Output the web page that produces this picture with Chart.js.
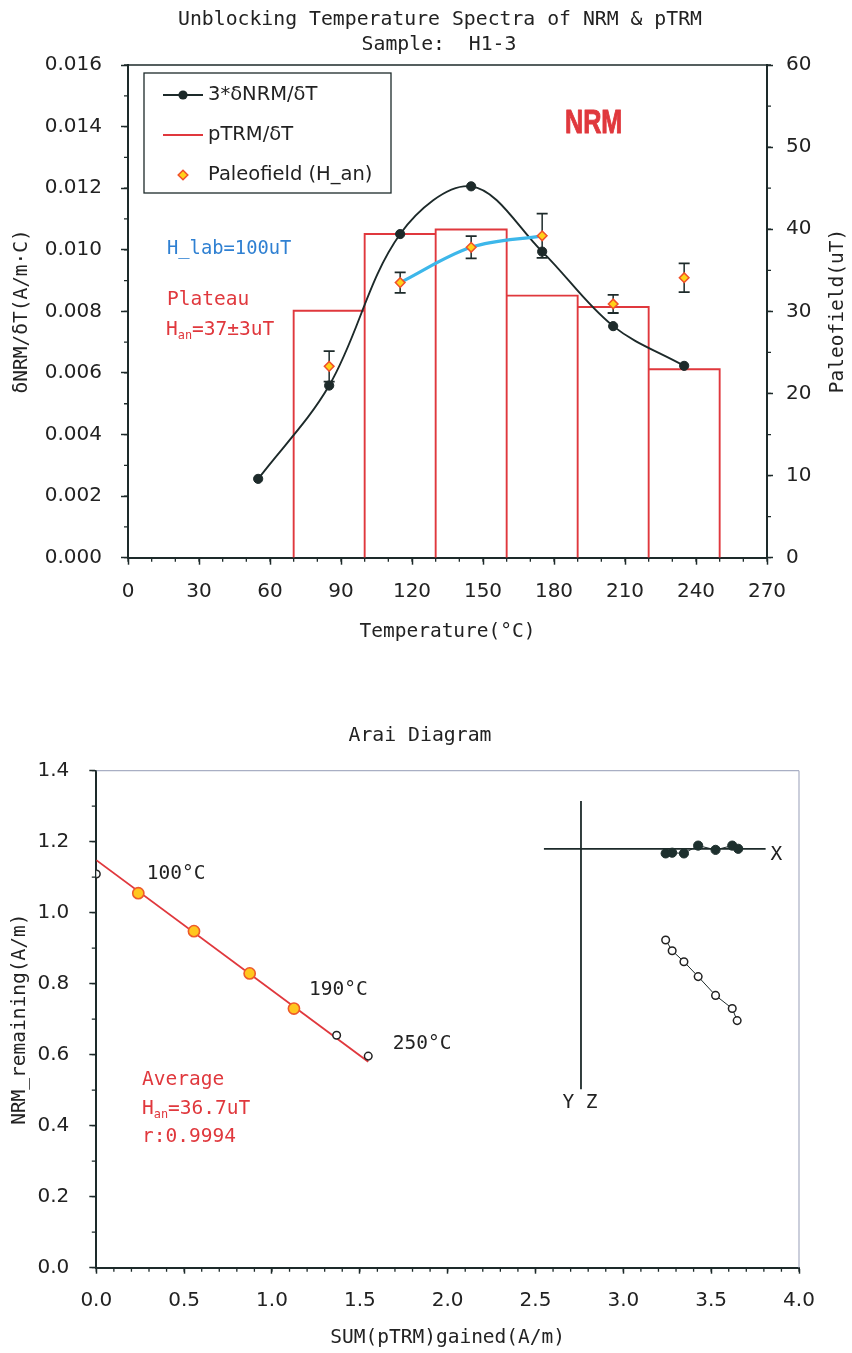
<!DOCTYPE html>
<html>
<head>
<meta charset="utf-8">
<title>Unblocking Temperature Spectra / Arai Diagram — H1-3</title>
<script src="https://cdn.jsdelivr.net/npm/chart.js@4.4.1/dist/chart.umd.min.js"></script>
<style>
  html, body { margin: 0; padding: 0; background: #ffffff; }
  body { width: 852px; height: 1353px; position: relative; overflow: hidden; }
  canvas { position: absolute; left: 0; }
  #spectra { top: 0; }
  #arai { top: 680px; }
</style>
</head>
<body>
<canvas id="spectra" width="852" height="660" style="width:852px;height:660px"></canvas>
<canvas id="arai" width="852" height="673" style="width:852px;height:673px"></canvas>
<script>
// ---------- Unblocking temperature spectra (sample H1-3) ----------
const stepTemps   = [55, 85, 115, 145, 175, 205, 235];                      // °C, mid-step
const nrmRate3x   = [0.00256, 0.00559, 0.01051, 0.01206, 0.00994, 0.00752, 0.00623]; // 3*dNRM/dT
const binEdges    = [70, 100, 130, 160, 190, 220, 250];                     // °C
const ptrmRate    = [0.00802, 0.01051, 0.01066, 0.00851, 0.00814, 0.00612]; // pTRM/dT per bin
const paleoTemps  = [85, 115, 145, 175, 205, 235];
const paleofield  = [23.3, 33.5, 37.8, 39.2, 30.9, 34.1];                   // uT
const paleoErr    = [1.85, 1.25, 1.35, 2.7, 1.1, 1.75];                     // uT
const plateauRange = [115, 175];
const tempTickStep = 30, tempMinorStep = 10;

// ---------- Arai diagram ----------
const pTRMgained   = [0.000, 0.239, 0.556, 0.873, 1.125, 1.368, 1.548];     // A/m
const nrmRemaining = [1.109, 1.055, 0.948, 0.829, 0.730, 0.655, 0.596];     // A/m
const fitFirst = 1, fitLast = 4;
const Hlab = 100, Han = 36.7, fitIntercept = 1.148, fitR = 0.9994;
const stepLabels = [[1, '100°C'], [4, '190°C'], [6, '250°C']];

// Orthogonal (Zijderveld) projection shown inside the Arai frame
const zijAxisLevel = 1.180, zijAxisSpanX = [2.548, 3.810];
const zijAxisPos   = 2.759, zijAxisSpanY = [0.503, 1.315];
const zijHorizX = [3.241, 3.278, 3.345, 3.426, 3.525, 3.620, 3.654];
const zijHorizY = [1.167, 1.169, 1.167, 1.189, 1.177, 1.189, 1.180];
const zijVertX  = [3.241, 3.278, 3.345, 3.426, 3.525, 3.620, 3.648];
const zijVertY  = [0.923, 0.893, 0.862, 0.820, 0.767, 0.730, 0.696];

// ---------- styling ----------
const MONO = '"DejaVu Sans Mono", monospace';
const SANS = '"DejaVu Sans", sans-serif';
const INK  = '#1d2a2a';
const TXT  = '#222222';
const RED  = '#e0383d';
const BLUE = '#2f80d2';
const CYAN = '#3db7ea';
const DIAMOND_FILL = '#ffd21a', DIAMOND_EDGE = '#f0502a';

// ---------- helpers / plugins ----------
function drawParts(ctx, parts, x, y, o) {
  const size = o.size || 19.5, family = o.family || MONO, weight = o.weight || 'normal';
  const seg = parts.map(p => (typeof p === 'object') ? {t: p.t, sub: true} : {t: p, sub: false});
  let total = 0;
  seg.forEach(s => {
    ctx.font = `${weight} ${s.sub ? size * 0.61 : size}px ${family}`;
    s.w = ctx.measureText(s.t).width; total += s.w;
  });
  let cx = o.align === 'center' ? x - total / 2 : x;
  ctx.textBaseline = 'middle';
  ctx.textAlign = 'left';
  seg.forEach(s => {
    ctx.font = `${weight} ${s.sub ? size * 0.61 : size}px ${family}`;
    const yy = y + (s.sub ? size * 0.29 : 0);
    ctx.fillText(s.t, cx, yy);
    if (o.stroke) {
      ctx.strokeStyle = ctx.fillStyle;
      ctx.lineWidth = o.stroke;
      ctx.lineJoin = 'round';
      ctx.strokeText(s.t, cx, yy);
    }
    cx += s.w;
  });
}

function textPlugin(itemsFor) {
  return {
    id: 'textItems',
    afterDraw(chart) {
      const ctx = chart.ctx;
      itemsFor(chart).forEach(it => {
        ctx.save();
        ctx.fillStyle = it.color || TXT;
        if (it.rotate) {
          ctx.translate(it.x, it.y);
          ctx.rotate(it.rotate * Math.PI / 180);
          drawParts(ctx, it.parts, 0, 0, it);
        } else if (it.squeeze) {
          ctx.translate(it.x, it.y);
          ctx.scale(it.squeeze, 1);
          drawParts(ctx, it.parts, 0, 0, it);
        } else {
          drawParts(ctx, it.parts, it.x, it.y, it);
        }
        ctx.restore();
      });
    }
  };
}

function minorTicksPlugin(axes) {
  return {
    id: 'minorTicks',
    afterDraw(chart) {
      const ctx = chart.ctx;
      ctx.save();
      ctx.strokeStyle = INK;
      ctx.lineWidth = 1.3;
      ctx.beginPath();
      Object.entries(axes).forEach(([id, m]) => {
        const s = chart.scales[id];
        const n = Math.round((s.max - s.min) / m.step);
        for (let k = 0; k <= n; k++) {
          const p = s.getPixelForValue(s.min + k * m.step);
          if (s.isHorizontal()) { ctx.moveTo(p, s.top); ctx.lineTo(p, s.top + m.len); }
          else if (s.position === 'left') { ctx.moveTo(s.right, p); ctx.lineTo(s.right - m.len, p); }
          else { ctx.moveTo(s.left, p); ctx.lineTo(s.left + m.len, p); }
        }
      });
      ctx.stroke();
      ctx.restore();
    }
  };
}

function framePlugin(o) {
  return {
    id: 'frameEdges',
    afterDatasetsDraw(chart) {
      const {ctx, chartArea: a} = chart;
      ctx.save();
      ctx.strokeStyle = o.color; ctx.lineWidth = o.width;
      ctx.beginPath();
      if (o.top)   { ctx.moveTo(a.left, a.top); ctx.lineTo(a.right, a.top); }
      if (o.right) { ctx.moveTo(a.right, a.top); ctx.lineTo(a.right, a.bottom); }
      ctx.stroke();
      ctx.restore();
    }
  };
}

// boxed legend inside the plot area
const spectraLegend = {
  id: 'spectraLegend',
  afterDraw(chart) {
    const ctx = chart.ctx;
    const L = 144, T = 73, R = 391, B = 193;
    const rows = [95, 135, 175], x0 = 163, x1 = 203, xm = 183, xt = 208;
    ctx.save();
    ctx.strokeStyle = INK; ctx.lineWidth = 1.3;
    ctx.strokeRect(L, T, R - L, B - T);
    // row 1: curve with dot
    ctx.strokeStyle = INK; ctx.lineWidth = 1.8;
    ctx.beginPath(); ctx.moveTo(x0, rows[0]); ctx.lineTo(x1, rows[0]); ctx.stroke();
    ctx.fillStyle = INK;
    ctx.beginPath(); ctx.arc(xm, rows[0], 4.6, 0, Math.PI * 2); ctx.fill();
    // row 2: histogram line
    ctx.strokeStyle = RED; ctx.lineWidth = 1.8;
    ctx.beginPath(); ctx.moveTo(x0, rows[1]); ctx.lineTo(x1, rows[1]); ctx.stroke();
    // row 3: diamond
    ctx.fillStyle = DIAMOND_FILL; ctx.strokeStyle = DIAMOND_EDGE; ctx.lineWidth = 1.5;
    ctx.beginPath();
    ctx.moveTo(xm, rows[2] - 4.8); ctx.lineTo(xm + 4.8, rows[2]);
    ctx.lineTo(xm, rows[2] + 4.8); ctx.lineTo(xm - 4.8, rows[2]); ctx.closePath();
    ctx.fill(); ctx.stroke();
    ctx.fillStyle = TXT;
    drawParts(ctx, ['3*δNRM/δT'], xt, rows[0], {size: 19.5, family: SANS});
    drawParts(ctx, ['pTRM/δT'], xt, rows[1], {size: 19.5, family: SANS});
    drawParts(ctx, ['Paleofield (H_an)'], xt, rows[2], {size: 19.5, family: SANS});
    ctx.restore();
  }
};

// ---------- series built from the arrays ----------
const nrmSeries = stepTemps.map((t, i) => ({x: t, y: nrmRate3x[i]}));
const histOutline = [];
ptrmRate.forEach((v, i) => {
  const lo = binEdges[i], hi = binEdges[i + 1];
  histOutline.push({x: lo, y: 0}, {x: lo, y: v}, {x: hi, y: v}, {x: hi, y: 0});
});
const paleoSeries = paleoTemps.map((t, i) => ({x: t, y: paleofield[i]}));
const plateauSeries = paleoSeries.filter(p => p.x >= plateauRange[0] && p.x <= plateauRange[1]);
const errSeries = [];
paleoTemps.forEach((t, i) => {
  errSeries.push({x: t, y: paleofield[i] - paleoErr[i]}, {x: t, y: paleofield[i] + paleoErr[i]}, {x: t, y: null});
});

const tickFont = {family: SANS, size: 20};
const titleFont = {family: MONO, size: 19.5};

new Chart(document.getElementById('spectra'), {
  type: 'scatter',
  data: {
    datasets: [
      { label: 'Paleofield (H_an)', type: 'scatter', data: paleoSeries, yAxisID: 'y2', order: 0,
        pointStyle: 'rectRot', pointRadius: 4.8, backgroundColor: DIAMOND_FILL,
        borderColor: DIAMOND_EDGE, borderWidth: 1.5 },
      { label: 'error', type: 'line', data: errSeries, yAxisID: 'y2', order: 1, spanGaps: false,
        borderColor: INK, borderWidth: 1.5, pointStyle: 'line', pointRadius: 5.5,
        pointBorderColor: INK, pointBorderWidth: 1.8, tension: 0 },
      { label: 'plateau', type: 'line', data: plateauSeries, yAxisID: 'y2', order: 2,
        borderColor: CYAN, borderWidth: 3.2, pointRadius: 0, tension: 0.35 },
      { label: '3*δNRM/δT', type: 'line', data: nrmSeries, yAxisID: 'y', order: 3,
        borderColor: INK, borderWidth: 1.9, tension: 0.35,
        pointRadius: 4.6, pointBackgroundColor: INK, pointBorderColor: INK, pointBorderWidth: 1 },
      { label: 'pTRM/δT', type: 'line', data: histOutline, yAxisID: 'y', order: 4,
        borderColor: RED, borderWidth: 1.9, pointRadius: 0, tension: 0 }
    ]
  },
  options: {
    responsive: false, animation: false, events: [],
    layout: { padding: { top: 65, right: 0, bottom: 0, left: 0 } },
    plugins: { legend: { display: false }, tooltip: { enabled: false } },
    scales: {
      x: {
        type: 'linear', position: 'bottom', min: 0, max: 270, offset: false,
        ticks: { stepSize: tempTickStep, font: tickFont, color: TXT, padding: 15, maxRotation: 0, autoSkip: false },
        grid: { drawOnChartArea: false, drawTicks: true, tickLength: 7, tickColor: INK, tickWidth: 1.5 },
        border: { display: true, color: INK, width: 2 },
        title: { display: true, text: 'Temperature(°C)', font: titleFont, color: TXT, padding: { top: 0, bottom: 16 } },
        afterFit(s) { s.height = 102.3; }
      },
      y: {
        type: 'linear', position: 'left', min: 0, max: 0.016,
        ticks: { stepSize: 0.002, callback: v => v.toFixed(3), font: tickFont, color: TXT, padding: 19 },
        grid: { drawOnChartArea: false, drawTicks: true, tickLength: 7, tickColor: INK, tickWidth: 1.5 },
        border: { display: true, color: INK, width: 2 },
        title: { display: true, text: 'δNRM/δT(A/m·C)', font: titleFont, color: TXT, padding: { top: 10, bottom: 0 } },
        afterFit(s) { s.width = 128; }
      },
      y2: {
        type: 'linear', position: 'right', min: 0, max: 60,
        ticks: { stepSize: 10, font: tickFont, color: TXT, padding: 13 },
        grid: { drawOnChartArea: false, drawTicks: true, tickLength: 6, tickColor: INK, tickWidth: 1.5 },
        border: { display: true, color: INK, width: 2 },
        afterFit(s) { s.width = 85; }
      }
    }
  },
  plugins: [
    framePlugin({ top: true, right: false, color: INK, width: 1.6 }),
    minorTicksPlugin({ x: { step: tempMinorStep, len: 4 }, y: { step: 0.001, len: 4 }, y2: { step: 5, len: 4 } }),
    spectraLegend,
    textPlugin(() => [
      { parts: ['Unblocking Temperature Spectra of NRM & pTRM'], x: 440, y: 19.5, align: 'center', size: 19.8 },
      { parts: ['Sample:  H1-3'], x: 439, y: 45, align: 'center', size: 19.8 },
      { parts: ['Paleofield(uT)'], x: 838, y: 311, rotate: -90, align: 'center', size: 19.5 },
      { parts: ['NRM'], x: 565, y: 124, squeeze: 0.74, size: 34, family: '"Liberation Sans", Arial, sans-serif',
        weight: 'bold', stroke: 1.0, color: RED },
      { parts: ['H_lab=100uT'], x: 167, y: 249, size: 18.8, color: BLUE },
      { parts: ['Plateau'], x: 167, y: 300, size: 19.5, color: RED },
      { parts: ['H', { t: 'an' }, '=37±3uT'], x: 166, y: 330, size: 19.5, color: RED }
    ])
  ]
});

// ---------- Arai chart ----------
const araiPts = pTRMgained.map((x, i) => ({x, y: nrmRemaining[i]}));
const fitPts = araiPts.filter((_, i) => i >= fitFirst && i <= fitLast);
const otherPts = araiPts.filter((_, i) => i < fitFirst || i > fitLast);
const slope = -Han / Hlab;
const xEnd = pTRMgained[pTRMgained.length - 1];
const fitLine = [{x: 0, y: fitIntercept}, {x: xEnd, y: fitIntercept + slope * xEnd}];
const zijAxes = [
  {x: zijAxisSpanX[0], y: zijAxisLevel}, {x: zijAxisSpanX[1], y: zijAxisLevel}, {x: zijAxisSpanX[1], y: null},
  {x: zijAxisPos, y: zijAxisSpanY[1]}, {x: zijAxisPos, y: zijAxisSpanY[0]}
];
const zijHoriz = zijHorizX.map((x, i) => ({x, y: zijHorizY[i]}));
const zijVert = zijVertX.map((x, i) => ({x, y: zijVertY[i]}));

new Chart(document.getElementById('arai'), {
  type: 'scatter',
  data: {
    datasets: [
      { label: 'fit steps', type: 'scatter', data: fitPts, order: 0,
        pointRadius: 5.6, backgroundColor: '#ffc61e', borderColor: '#ee5a2a', borderWidth: 1.6 },
      { label: 'other steps', type: 'scatter', data: otherPts, order: 1,
        pointRadius: 3.8, backgroundColor: '#ffffff', borderColor: TXT, borderWidth: 1.5 },
      { label: 'fit', type: 'line', data: fitLine, order: 2,
        borderColor: RED, borderWidth: 1.9, pointRadius: 0, tension: 0 },
      { label: 'horizontal', type: 'line', data: zijHoriz, order: 3,
        borderColor: INK, borderWidth: 1, tension: 0,
        pointRadius: 4.6, pointBackgroundColor: '#1e302e', pointBorderColor: '#1e302e', pointBorderWidth: 1 },
      { label: 'vertical', type: 'line', data: zijVert, order: 4,
        borderColor: INK, borderWidth: 1, tension: 0,
        pointRadius: 3.8, pointBackgroundColor: '#ffffff', pointBorderColor: TXT, pointBorderWidth: 1.5 },
      { label: 'axes', type: 'line', data: zijAxes, order: 5, spanGaps: false,
        borderColor: INK, borderWidth: 1.8, pointRadius: 0, tension: 0 }
    ]
  },
  options: {
    responsive: false, animation: false, events: [],
    layout: { padding: { top: 90.7, right: 53, bottom: 0, left: 0 } },
    plugins: { legend: { display: false }, tooltip: { enabled: false } },
    scales: {
      x: {
        type: 'linear', position: 'bottom', min: 0, max: 4, offset: false,
        ticks: { stepSize: 0.5, callback: v => v.toFixed(1), font: tickFont, color: TXT, padding: 15, maxRotation: 0, autoSkip: false },
        grid: { drawOnChartArea: false, drawTicks: true, tickLength: 6, tickColor: INK, tickWidth: 1.5 },
        border: { display: true, color: INK, width: 2 },
        title: { display: true, text: 'SUM(pTRM)gained(A/m)', font: titleFont, color: TXT, padding: { top: 0, bottom: 3 } },
        afterFit(s) { s.height = 85.3; }
      },
      y: {
        type: 'linear', position: 'left', min: 0, max: 1.4,
        ticks: { stepSize: 0.2, callback: v => v.toFixed(1), font: tickFont, color: TXT, padding: 20 },
        grid: { drawOnChartArea: false, drawTicks: true, tickLength: 7, tickColor: INK, tickWidth: 1.5 },
        border: { display: true, color: INK, width: 2 },
        title: { display: true, text: 'NRM_remaining(A/m)', font: titleFont, color: TXT, padding: { top: 8, bottom: 0 } },
        afterFit(s) { s.width = 96.3; }
      }
    }
  },
  plugins: [
    framePlugin({ top: true, right: true, color: '#a9afc4', width: 1.2 }),
    minorTicksPlugin({ x: { step: 0.1, len: 4 }, y: { step: 0.1, len: 4.5 } }),
    textPlugin(chart => {
      const sx = chart.scales.x, sy = chart.scales.y;
      const offs = { 1: [8.5, -19], 4: [15, -18.7], 6: [24.5, -12.5] };
      const items = [
        { parts: ['Arai Diagram'], x: 420, y: 56, align: 'center', size: 19.8 },
        { parts: ['Average'], x: 142, y: 400, size: 19.5, color: RED },
        { parts: ['H', { t: 'an' }, '=' + Han.toFixed(1) + 'uT'], x: 142, y: 429, size: 19.5, color: RED },
        { parts: ['r:' + fitR.toFixed(4)], x: 142, y: 457, size: 19.5, color: RED },
        { parts: ['X'], x: sx.getPixelForValue(zijAxisSpanX[1]) + 5, y: sy.getPixelForValue(zijAxisLevel) + 6, size: 19.5 },
        { parts: ['Y Z'], x: sx.getPixelForValue(zijAxisPos) - 1, y: sy.getPixelForValue(zijAxisSpanY[0]) + 14, align: 'center', size: 19.5 }
      ];
      stepLabels.forEach(([i, txt]) => {
        items.push({ parts: [txt], x: sx.getPixelForValue(pTRMgained[i]) + offs[i][0],
                     y: sy.getPixelForValue(nrmRemaining[i]) + offs[i][1], size: 19.5 });
      });
      return items;
    })
  ]
});
</script>
</body>
</html>
